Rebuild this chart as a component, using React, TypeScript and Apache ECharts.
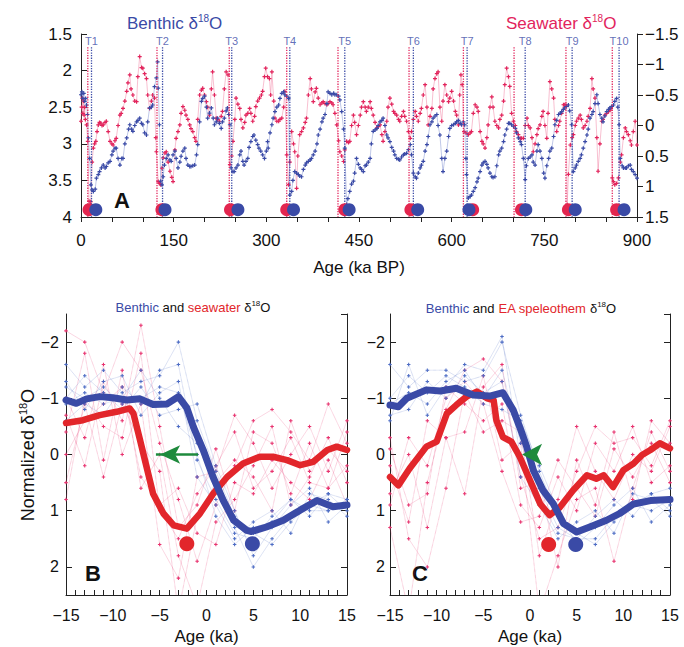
import React, { useEffect, useRef } from 'react';
import * as echarts from 'echarts';

// ---------- Panel A data ----------
const benthicA: [number, number][] = [
  [0,2.33],[1.5,2.29],[3,2.38],[4.5,2.31],[6,2.42],[7.5,2.38],[9,2.47],[10.5,2.6],[12,2.92],[14,3.2],[16,3.56],[18,3.63],[20,3.65],[23,3.62],[25,3.47],[28,3.42],[30,3.38],[33,3.33],[36,3.29],[39,3.33],[41,3.31],[44,3.26],[47,3.24],[50,3.15],[52,3.1],[55,3.06],[57,3.06],[60,3.2],[63,3.29],[66,3.2],[68,3.2],[71,3.0],[74,2.92],[77,2.8],[79,2.74],[82,2.8],[84,2.83],[87,2.75],[90,2.7],[92,2.68],[95,2.65],[98,2.72],[100,2.74],[103,2.85],[106,2.88],[108,2.7],[111,2.51],[114,2.5],[116,2.47],[119,2.22],[122,2.1],[124,1.88],[125,2.24],[127,2.74],[129,3.51],[131,3.56],[133,3.45],[135,3.29],[138,3.2],[141,3.15],[144,3.22],[146,3.24],[149,3.15],[152,3.1],[154,3.2],[157,3.33],[160,3.25],[162,3.17],[165,3.1],[168,3.06],[170,3.2],[173,3.29],[176,3.31],[178,3.31],[181,3.3],[184,3.29],[187,3.15],[189,3.01],[192,2.7],[195,2.42],[197,2.38],[200,2.35],[203,2.5],[205,2.65],[208,2.58],[211,2.51],[214,2.65],[216,2.74],[219,2.7],[221,2.65],[224,2.72],[227,2.79],[229,2.7],[232,2.65],[235,2.55],[237,2.51],[239,2.6],[241,2.74],[243,3.33],[246,3.38],[248,3.38],[251,3.33],[254,3.29],[257,3.15],[259,3.1],[262,3.24],[264,3.29],[267,3.24],[270,3.2],[272,3.05],[275,2.97],[278,2.9],[280,2.88],[283,2.95],[286,3.01],[288,3.06],[291,3.1],[294,3.15],[297,3.2],[300,3.1],[302,2.97],
  [303,3.06],[306,2.85],[309,2.74],[311,2.65],[314,2.56],[317,2.5],[320,2.47],[322,2.38],[325,2.31],[328,2.29],[330,2.33],[333,2.35],[336,2.38],[338,3.7],[341,3.65],[343,3.5],[346,3.38],[349,3.4],[352,3.42],[354,3.44],[357,3.45],[360,3.35],[363,3.29],[365,3.26],[368,3.24],[371,3.22],[373,3.2],[376,3.15],[379,3.1],[382,3.0],[384,2.88],[387,2.8],[390,2.7],[392,2.65],[395,2.6],[398,2.45],[400,2.29],[403,2.31],[406,2.33],[409,2.31],[411,2.33],[414,2.33],[417,2.35],[419,2.4],[422,2.56],[425,2.8],[427,3.06],[430,3.83],[432,3.75],[435,3.65],[438,3.55],[441,3.51],[443,3.4],[446,3.2],[449,3.28],[452,3.33],[454,3.35],[457,3.38],[460,3.3],[462,3.29],[465,3.25],[468,3.2],[470,3.0],[473,2.83],[476,2.81],[479,2.79],[481,2.75],[484,2.7],[487,2.68],[489,2.65],[492,2.75],[495,2.88],[497,2.92],[500,2.97],[503,3.05],[506,3.1],[508,3.15],[511,3.2],[514,3.21],[516,3.22],[519,3.18],[522,3.15],[524,3.14],[527,3.13],[530,3.08],[533,3.01],[535,3.15],[538,3.4],[541,3.45],[543,3.47],[546,3.4],[549,3.33],[551,3.29],[554,3.24],[557,3.1],[560,3.01],[562,2.9],[565,2.74],[568,2.7],[570,2.65],[573,2.62],[576,2.6],[578,2.75],[581,2.88],[584,3.2],[586,3.38],[589,3.2],[592,3.1],[595,2.9],[597,2.79],[600,2.75],[603,2.74],[606,2.72],[608,2.7],[611,2.68],[614,2.72],[616,2.74],
  [619,2.7],[621,2.74],[623,3.2],[624,3.42],[627,3.74],[630,3.72],[632,3.7],[635,3.65],[638,3.6],[641,3.52],[643,3.47],[646,3.38],[649,3.29],[651,3.26],[654,3.24],[657,3.28],[659,3.33],[662,3.4],[665,3.45],[667,3.46],[670,3.45],[673,3.3],[676,3.15],[678,3.1],[681,3.06],[684,2.97],[686,2.88],[689,2.8],[692,2.72],[694,2.72],[697,2.74],[700,2.76],[703,2.79],[705,2.85],[708,2.92],[711,2.97],[713,3.01],[716,3.2],[719,3.49],[721,3.3],[724,3.2],[727,3.18],[730,3.15],[732,3.25],[735,3.29],[738,3.1],[740,3.01],[743,3.1],[746,3.2],[749,3.4],[751,3.47],[754,3.3],[757,3.2],[759,3.1],[762,3.06],[765,2.9],[767,2.74],[770,2.68],[773,2.6],[776,2.58],[778,2.56],[781,2.53],[783,2.51],[786,2.49],[789,2.47],[791,2.55],[794,2.74],[797,3.38],[800,3.33],[802,3.29],[805,3.24],[808,3.2],[810,3.15],[813,3.06],[816,2.97],[819,2.88],[821,2.8],[824,2.65],[827,2.6],[829,2.56],[832,2.45],[835,2.33],[837,2.45],[840,2.6],[843,2.65],[845,2.7],[848,2.62],[851,2.56],[854,2.53],[856,2.51],[859,2.49],[862,2.47],[864,2.42],[867,2.38],[869,2.5],[871,2.74],[873,3.2],[876,3.3],[878,3.33],[881,3.33],[883,3.33],[886,3.3],[889,3.29],[891,3.35],[894,3.38],[897,3.42],[900,3.47]
];

const seawaterA: [number, number][] = [
  [0,-0.07],[1,-0.3],[2,-0.45],[3,-0.2],[4,-0.4],[5,-0.17],[6,-0.3],[7,-0.1],[9,-0.01],[11,0.26],[13,1.24],[15,1.3],[16,1.25],[18,0.6],[20,0.37],[22,0.3],[24,0.26],[26,0.1],[28,-0.01],[30,-0.05],[32,-0.04],[34,0.0],[36,-0.01],[39,-0.05],[41,-0.07],[44,0.1],[47,0.26],[50,0.3],[52,0.32],[55,0.25],[57,0.21],[60,0.0],[63,-0.17],[65,-0.2],[68,-0.28],[71,-0.4],[74,-0.56],[76,-0.7],[79,-0.83],[81,-0.6],[84,-0.5],[87,-0.4],[90,-0.39],[92,-0.8],[95,-1.13],[98,-0.95],[100,-0.94],[103,-0.85],[106,-0.77],[108,-0.5],[111,-0.28],[114,-0.4],[116,-0.5],[119,-0.45],[121,0.2],[122,0.43],[125,0.92],[127,0.95],[129,0.97],[131,0.7],[133,0.53],[136,0.45],[138,0.43],[141,0.6],[144,0.75],[147,0.85],[149,0.92],[152,0.4],[154,0.21],[157,0.1],[160,-0.01],[162,-0.2],[165,-0.31],[168,-0.25],[170,-0.17],[173,-0.1],[176,-0.01],[178,0.05],[181,0.1],[184,0.2],[186,0.26],[189,-0.1],[192,-0.5],[195,-0.58],[197,-0.61],[200,-0.5],[203,-0.39],[205,-0.3],[208,-0.17],[211,-0.6],[213,-0.88],[216,-0.5],[219,-0.12],[221,-0.1],[224,-0.07],[227,-0.15],[229,-0.23],[232,-0.6],[235,-0.88],[238,-0.83],[241,0.64],[244,0.5],[246,0.26],[249,-0.1],[251,-0.45],[254,-0.35],[257,-0.28],[259,-0.1],[262,0.04],[265,-0.05],[267,-0.17],[270,-0.2],[273,-0.28],[275,-0.2],[278,-0.07],[281,-0.15],[283,-0.31],[286,-0.4],[289,-0.45],[292,-0.5],[294,-0.56],[297,-0.8],[299,-0.94],[302,-0.8],[305,-0.77],[307,-0.5],[309,-0.88],[312,-0.4],[314,-0.12],[317,-0.07],[320,-0.07],[322,-0.1],[325,-0.12],[328,-0.3],[330,-0.56],[333,0.48],[336,0.97],[338,0.6],[341,0.1],[344,0.3],[346,0.43],[349,1.03],[351,0.5],[354,0.15],[357,0.1],[360,0.04],[363,-0.05],[365,-0.12],[368,-0.5],[371,-0.77],[373,-0.6],[376,-0.39],[379,-0.55],[381,-0.61],[384,-0.45],[387,-0.34],[390,-0.37],[392,-0.39],[395,-0.36],[398,-0.34],[400,-0.36],[403,-0.39],[406,-0.37],[408,-0.34],[411,-0.2],[414,-0.01],[417,0.25],[419,0.43],[422,0.5],[425,0.59],[427,0.4],[430,0.26],[433,0.28],[435,0.26],[438,0.0],[441,-0.17],[443,-0.05],[446,0.15],[449,0.0],[452,-0.17],[454,-0.3],[457,-0.39],[460,-0.3],[462,-0.23],[465,-0.3],[468,-0.39],[470,-0.28],[473,-0.17],[476,-0.05],[479,0.04],[481,0.02],[484,-0.01],[487,0.15],[489,0.26],[492,0.1],[495,-0.07],[497,-0.3],[500,-0.45],[503,-0.35],[506,-0.23],[508,-0.2],[511,-0.17],[514,-0.1],[516,-0.07],[519,-0.15],[522,-0.23],[524,-0.15],[527,-0.07],[530,0.1],[533,0.21],[535,0.1],[538,-0.1],[541,-0.23],[543,-0.15],[546,-0.07],[549,-0.2],[551,-0.28],[554,-0.5],[557,-0.67],[560,-0.3],[562,-0.01],[565,-0.15],[568,-0.28],[570,-0.6],[573,-0.77],[576,-0.85],[578,-0.88],[581,-0.3],[584,-0.07],[586,-0.4],[589,-0.67],[592,-0.5],[595,-0.39],[597,-0.45],[600,-0.56],[603,-0.4],[606,-0.23],[608,-0.17],[611,-0.01],[613,-0.5],[615,-0.83],[617,-0.67],[620,0.1],[623,0.12],[627,0.15],[630,0.12],[632,0.1],[635,-0.2],[638,-0.34],[641,-0.3],[643,-0.23],[646,0.1],[649,0.26],[651,0.3],[654,0.37],[657,0.2],[659,-0.01],[662,-0.3],[665,-0.47],[667,-0.3],[670,-0.07],[673,0.0],[676,0.04],[678,-0.1],[681,-0.17],[684,-0.4],[686,-0.67],[689,-0.94],[692,-0.8],[694,-0.64],[697,-0.2],[700,-0.07],[703,0.0],[705,0.1],[708,0.15],[711,0.21],[713,0.21],[716,0.21],[719,0.0],[722,-0.12],[724,0.0],[727,0.04],[730,0.2],[732,0.43],[735,0.3],[738,0.15],[740,0.05],[743,-0.01],[746,-0.15],[748,-0.23],[751,0.0],[754,0.21],[756,-0.2],[759,-0.72],[762,-0.6],[765,-0.45],[767,-0.1],[770,0.1],[773,0.0],[775,-0.07],[778,-0.2],[781,-0.34],[783,-0.34],[785,-0.34],[787,1.3],[789,0.8],[792,0.32],[795,0.2],[797,0.15],[800,0.0],[802,-0.07],[805,-0.12],[808,-0.17],[810,-0.1],[813,0.04],[816,0.0],[819,-0.07],[821,-0.15],[824,-0.28],[827,-0.77],[829,-0.6],[832,-0.45],[835,0.2],[837,0.75],[840,0.3],[843,-0.07],[845,-0.1],[848,-0.17],[851,-0.2],[854,-0.23],[856,-0.25],[858,-0.28],[860,0.86],[862,0.92],[864,0.97],[867,0.95],[870,0.86],[873,0.6],[875,0.48],[878,0.2],[881,0.04],[883,0.1],[886,0.15],[889,0.25],[891,0.32],[894,0.1],[897,-0.07],[900,0.32]
];

const termLabels = ['T1','T2','T3','T4','T5','T6','T7','T8','T9','T10'];
const termRedAge = [11, 123, 240, 333, 416, 531, 619, 701, 785, 860];
const termBlueAge = [17, 132, 244, 338, 427, 538, 625, 719, 795, 871];
const dotRedAge = [13, 131, 242, 333, 427, 534, 634, 713, 789, 867];
const dotBlueAge = [24, 136, 254, 344, 434, 545, 628, 720, 800, 879];

// ---------- Panels B & C data ----------
const ageBC = [-15,-13,-11,-9,-7,-5,-3,-1,1,3,5,7,9,11,13,15];

const thinBlueB = [
  [-1.6,-1.2,-1.5,-1.1,-1.3,-1.4,-2.0,-0.6,0.3,1.1,1.4,1.6,1.2,0.9,1.0,0.8],
  [-0.6,-0.9,-0.7,-1.2,-0.9,-1.5,-1.6,0.1,0.8,1.4,1.5,1.1,0.8,1.1,0.7,1.0],
  [-1.0,-1.4,-1.1,-0.8,-1.2,-0.7,-0.8,-0.9,0.2,1.0,1.8,1.3,0.9,0.6,1.2,0.9],
  [-1.3,-0.8,-1.3,-1.4,-0.7,-1.1,-1.3,0.4,0.9,1.5,1.2,1.0,1.4,0.7,0.8,1.1],
  [-0.9,-1.1,-0.9,-1.0,-1.5,-1.0,-0.5,-0.2,0.6,1.3,2.0,1.5,1.1,0.9,0.7,0.8],
  [-1.2,-1.0,-1.2,-0.9,-1.0,-1.2,-1.1,0.0,1.1,1.6,1.3,1.2,0.8,1.0,1.0,0.9]
];
const thinRedB = [
  [-2.2,-2.0,-1.1,-2.0,-1.5,-0.2,0.8,1.9,0.9,0.2,-0.6,-0.8,-0.4,0.1,-0.9,-0.2],
  [0.8,-1.0,-0.5,-0.3,-1.8,1.0,1.5,0.7,0.2,-0.4,0.6,0.3,-0.3,0.5,0.6,0.2],
  [-0.4,-1.8,0.1,-1.5,0.6,0.0,1.8,2.7,1.2,0.8,0.2,-0.5,0.9,0.4,-0.3,0.5],
  [-1.0,-0.3,-1.6,0.0,-0.9,1.6,2.2,0.4,0.3,-0.7,-0.2,0.6,0.0,-0.5,0.3,-0.6],
  [0.0,-0.6,-0.9,-1.2,0.4,0.9,0.6,1.4,1.6,0.5,0.7,0.1,0.5,0.8,0.1,0.9],
  [-0.7,0.2,-1.3,-0.6,-2.3,-0.5,1.3,0.9,-0.1,1.0,-0.4,-0.2,0.7,-0.2,0.6,-0.4],
  [0.5,-0.9,0.4,-0.9,-0.2,0.3,2.8,1.1,0.5,0.1,0.4,1.0,-0.6,0.3,-0.1,0.3]
];
const thinBlueC = [
  [-1.6,-1.2,-1.5,-1.5,-1.3,-1.4,-2.0,-0.7,0.3,1.1,1.4,1.6,1.2,0.9,1.0,0.8],
  [-0.6,-1.6,-0.7,-1.2,-1.6,-1.5,-2.1,0.1,0.8,1.4,1.5,1.1,0.8,1.1,0.7,1.0],
  [-1.0,-1.4,-1.1,-1.4,-1.2,-0.9,-0.8,-0.6,0.2,1.0,1.6,1.3,0.9,0.6,1.2,0.9],
  [-0.7,-0.8,-1.3,-1.0,-1.4,-1.1,-1.3,0.4,0.9,1.5,1.2,1.0,1.4,0.7,0.8,1.1],
  [-0.9,-1.1,-0.9,-1.3,-1.5,-1.0,-1.5,-0.2,0.6,1.3,1.5,1.5,1.1,0.9,0.7,0.6]
];
const thinRedC = [
  [1.3,2.8,0.5,-0.8,-1.5,-1.7,-1.3,0.4,1.5,1.3,0.3,-0.5,-0.2,-0.3,0.2,-0.6],
  [0.2,1.2,-0.6,-0.3,-0.4,-1.4,0.1,-0.2,2.8,1.8,0.8,0.6,1.9,0.6,-0.4,0.3],
  [-0.1,0.9,0.7,-1.2,-0.9,-0.6,-0.9,0.9,1.3,0.4,1.0,-0.2,0.3,-0.5,0.5,0.2],
  [0.7,0.0,1.3,-0.3,0.7,-1.2,-1.6,0.6,0.5,2.0,0.1,0.9,-0.4,0.8,-0.6,-0.2],
  [-0.3,1.5,2.0,0.6,-1.1,-0.4,-0.6,-0.4,1.8,0.8,-0.5,0.3,0.8,0.0,0.3,-0.5],
  [0.9,-0.3,0.2,-1.0,-1.3,-0.9,0.3,1.2,1.1,0.1,0.6,1.1,-0.1,0.4,-0.2,0.5]
];

const stackBlueB: [number, number][] = [[-15,-0.97],[-13.9,-0.91],[-12.8,-0.99],[-11.4,-1.03],[-10,-1.01],[-8.5,-0.97],[-7.1,-0.99],[-5.7,-0.89],[-4.2,-0.9],[-3,-1.03],[-2.1,-0.83],[-1.4,-0.49],[-0.35,-0.08],[0.7,0.4],[1.8,0.82],[2.9,1.17],[4.3,1.35],[4.8,1.37],[6.4,1.29],[8.2,1.17],[10,0.99],[11.8,0.82],[13.5,0.93],[15,0.9]];
const stackRedB: [number, number][] = [[-15,-0.56],[-13.2,-0.61],[-11.4,-0.7],[-9.6,-0.76],[-8.2,-0.82],[-7.8,-0.73],[-7.1,-0.26],[-6.4,0.22],[-5.7,0.7],[-4.6,1.05],[-3.5,1.26],[-2.1,1.32],[-0.7,1.05],[0.7,0.7],[2.2,0.4],[3.9,0.16],[5.7,0.04],[7.1,0.04],[8.6,0.1],[10,0.19],[11.4,0.13],[12.9,-0.08],[13.9,-0.14],[15,-0.08]];
const stackBlueC: [number, number][] = [[-15,-0.88],[-14.1,-0.85],[-13.2,-1.0],[-11.1,-1.15],[-9.6,-1.13],[-7.9,-1.18],[-6.1,-1.06],[-4.3,-1.04],[-2.9,-1.1],[-1.8,-0.79],[-1.1,-0.49],[-0.36,-0.14],[0.36,0.28],[1.4,0.64],[2.5,0.88],[3.6,1.23],[5,1.38],[6.4,1.29],[8.2,1.17],[9.6,1.05],[11.1,0.88],[12.9,0.82],[15,0.8]];
const stackRedC: [number, number][] = [[-15,0.4],[-14.1,0.55],[-12.9,0.25],[-11.1,-0.14],[-10,-0.23],[-8.9,-0.73],[-7.9,-0.88],[-6.8,-1.03],[-5.7,-1.12],[-4.6,-1.0],[-3.9,-0.97],[-3.6,-0.61],[-2.9,-0.31],[-2.0,-0.23],[-1.1,0.04],[0,0.46],[1.1,0.88],[2.1,1.08],[3.2,0.94],[4.6,0.64],[6.1,0.37],[7.1,0.43],[7.9,0.37],[8.9,0.58],[10,0.28],[11.1,0.16],[12,0.01],[12.9,-0.08],[13.9,-0.2],[15,-0.11]];

const arrowB: [number, number][] = [[-0.9, 0], [-5.4, 0]];
const arrowHeadB: [number, number] = [-4.95, 0];
const arrowHeadC: [number, number] = [-0.85, 0];
const dotsB = { red: [-2.1, 1.59] as [number, number], blue: [4.9, 1.59] as [number, number] };
const dotsC = { red: [2.0, 1.6] as [number, number], blue: [4.9, 1.6] as [number, number] };

// ---------- styling ----------
const FONT = 'Helvetica, "Liberation Sans", Arial, sans-serif';
const BLUE = '#3a4aa6';
const PINK = '#e2245c';
const RED = '#e2262b';
const THIN_BLUE = '#4d6cc4';
const THIN_RED = '#e8336f';
const GREEN = '#1e8a3c';
const PLUS = 'path://M3.5,0H6.5V3.5H10V6.5H6.5V10H3.5V6.5H0V3.5H3.5Z';
const minus = (v: number) => (v < 0 ? '\u2212' + String(Math.abs(v)) : String(v));

const axisLine = { show: true, onZero: false, lineStyle: { color: '#222', width: 1 } };
const labelStyle = (size: number, margin: number) => ({ fontSize: size, color: '#111', fontFamily: FONT, margin });

function buildOption() {
  const series: any[] = [];

  // Panel A
  series.push({
    type: 'line', xAxisIndex: 0, yAxisIndex: 1, data: seawaterA, z: 2,
    symbol: PLUS, symbolSize: 4, itemStyle: { color: PINK, opacity: 1 },
    lineStyle: { color: 'rgba(236,90,135,0.55)', width: 0.7 }
  });
  series.push({
    type: 'line', xAxisIndex: 0, yAxisIndex: 0, data: benthicA, z: 3,
    symbol: PLUS, symbolSize: 4, itemStyle: { color: BLUE, opacity: 1 },
    lineStyle: { color: 'rgba(90,110,195,0.55)', width: 0.7 }
  });
  termRedAge.forEach((a) => series.push({
    type: 'line', xAxisIndex: 0, yAxisIndex: 0, data: [[a, 1.68], [a, 4]], symbol: 'none', z: 4,
    lineStyle: { color: PINK, width: 1.3, type: 'dotted' }
  }));
  termBlueAge.forEach((a) => series.push({
    type: 'line', xAxisIndex: 0, yAxisIndex: 0, data: [[a, 1.68], [a, 4]], symbol: 'none', z: 4,
    lineStyle: { color: BLUE, width: 1.3, type: 'dotted' }
  }));
  series.push({
    type: 'scatter', xAxisIndex: 0, yAxisIndex: 0, data: termBlueAge.map((a) => [a, 1.6]),
    symbolSize: 1, itemStyle: { color: 'rgba(0,0,0,0)' }, z: 5,
    label: { show: true, position: 'inside', formatter: (p: any) => termLabels[p.dataIndex], color: BLUE, fontSize: 11, fontFamily: FONT }
  });
  series.push({
    type: 'scatter', xAxisIndex: 0, yAxisIndex: 0, data: dotRedAge.map((a) => [a, 3.9]),
    symbolSize: 13, itemStyle: { color: '#e3264f', opacity: 1 }, z: 6
  });
  series.push({
    type: 'scatter', xAxisIndex: 0, yAxisIndex: 0, data: dotBlueAge.map((a) => [a, 3.9]),
    symbolSize: 13, itemStyle: { color: BLUE, opacity: 1 }, z: 7
  });

  // Panels B and C
  const panel = (xi: number, yi: number, thinB: number[][], thinR: number[][], sB: any, sR: any, dots: any) => {
    thinR.forEach((ys) => series.push({
      type: 'line', xAxisIndex: xi, yAxisIndex: yi, data: ageBC.map((x, i) => [x, ys[i]]), z: 1,
      symbol: PLUS, symbolSize: 3.5, itemStyle: { color: THIN_RED, opacity: 1 },
      lineStyle: { color: THIN_RED, width: 0.6, type: 'dotted', opacity: 0.65 }
    }));
    thinB.forEach((ys) => series.push({
      type: 'line', xAxisIndex: xi, yAxisIndex: yi, data: ageBC.map((x, i) => [x, ys[i]]), z: 1,
      symbol: PLUS, symbolSize: 3.5, itemStyle: { color: THIN_BLUE, opacity: 1 },
      lineStyle: { color: THIN_BLUE, width: 0.6, type: 'dotted', opacity: 0.65 }
    }));
    series.push({
      type: 'line', xAxisIndex: xi, yAxisIndex: yi, data: sR, symbol: 'none', z: 3,
      lineStyle: { color: RED, width: 6.5, join: 'round', cap: 'round' }
    });
    series.push({
      type: 'line', xAxisIndex: xi, yAxisIndex: yi, data: sB, symbol: 'none', z: 4,
      lineStyle: { color: BLUE, width: 7, join: 'round', cap: 'round' }
    });
    series.push({
      type: 'scatter', xAxisIndex: xi, yAxisIndex: yi, data: [dots.red], symbolSize: 15, itemStyle: { color: RED, opacity: 1 }, z: 5
    });
    series.push({
      type: 'scatter', xAxisIndex: xi, yAxisIndex: yi, data: [dots.blue], symbolSize: 15, itemStyle: { color: BLUE, opacity: 1 }, z: 5
    });
  };
  panel(1, 2, thinBlueB, thinRedB, stackBlueB, stackRedB, dotsB);
  panel(2, 4, thinBlueC, thinRedC, stackBlueC, stackRedC, dotsC);

  series.push({
    type: 'line', xAxisIndex: 1, yAxisIndex: 2, data: arrowB, symbol: 'none', z: 6,
    lineStyle: { color: GREEN, width: 2.5 }
  });
  series.push({
    type: 'scatter', xAxisIndex: 1, yAxisIndex: 2, data: [arrowHeadB], symbol: 'arrow', symbolRotate: 90,
    symbolSize: [14, 20], itemStyle: { color: GREEN, opacity: 1 }, z: 7
  });
  series.push({
    type: 'scatter', xAxisIndex: 2, yAxisIndex: 4, data: [arrowHeadC], symbol: 'arrow', symbolRotate: 90,
    symbolSize: [16, 20], itemStyle: { color: GREEN, opacity: 1 }, z: 7
  });

  const xBC = (gi: number) => ({
    gridIndex: gi, type: 'value', min: -15, max: 15, interval: 1,
    axisLine, splitLine: { show: false },
    axisTick: { show: true, inside: true, length: 5, lineStyle: { color: '#222' } },
    axisLabel: { ...labelStyle(16, 12), formatter: (v: number) => (v % 5 === 0 ? minus(v) : '') },
    name: 'Age (ka)', nameLocation: 'middle', nameGap: 33,
    nameTextStyle: { fontSize: 17, color: '#111', fontFamily: FONT }
  });
  const yBC = (gi: number, pos: 'left' | 'right', showLabel: boolean, margin: number) => ({
    gridIndex: gi, type: 'value', min: -2.5, max: 2.5, minInterval: 1, maxInterval: 1, inverse: true, position: pos,
    axisLine, splitLine: { show: false },
    axisTick: { show: true, inside: true, length: 6, lineStyle: { color: '#222' } },
    axisLabel: { show: showLabel, ...labelStyle(16, margin), showMinLabel: false, showMaxLabel: false, formatter: (v: number) => minus(v) }
  });

  const supRich = (fs: number, ss: number, lh: number) => ({
    k: { fill: '#111', fontSize: fs, fontFamily: FONT, lineHeight: lh },
    b: { fill: BLUE, fontSize: fs, fontFamily: FONT, lineHeight: lh },
    r: { fill: RED, fontSize: fs, fontFamily: FONT, lineHeight: lh },
    p: { fill: PINK, fontSize: fs, fontFamily: FONT, lineHeight: lh },
    ks: { fill: '#111', fontSize: ss, fontFamily: FONT, lineHeight: lh, verticalAlign: 'top' },
    bs: { fill: BLUE, fontSize: ss, fontFamily: FONT, lineHeight: lh, verticalAlign: 'top' },
    ps: { fill: PINK, fontSize: ss, fontFamily: FONT, lineHeight: lh, verticalAlign: 'top' }
  });

  const graphic = [
    { type: 'text', x: 127, y: 23, style: { text: '{b|Benthic \u03b4}{bs|18}{b|O}', rich: supRich(17, 10, 20), align: 'left', verticalAlign: 'middle' } },
    { type: 'text', x: 506, y: 23, style: { text: '{p|Seawater \u03b4}{ps|18}{p|O}', rich: supRich(17, 10, 20), align: 'left', verticalAlign: 'middle' } },
    { type: 'text', x: 193, y: 307, style: { text: '{b|Benthic}{k| and }{r|seawater}{k| \u03b4}{ks|18}{k|O}', rich: supRich(13, 8, 16), align: 'center', verticalAlign: 'middle' } },
    { type: 'text', x: 521, y: 308, style: { text: '{b|Benthic}{k| and }{r|EA speleothem}{k| \u03b4}{ks|18}{k|O}', rich: supRich(13, 8, 16), align: 'center', verticalAlign: 'middle' } },
    { type: 'text', x: 28, y: 455, rotation: Math.PI / 2, style: { text: '{k|Normalized \u03b4}{ks|18}{k|O}', rich: supRich(18, 11, 22), align: 'center', verticalAlign: 'middle' } },
    { type: 'text', x: 122, y: 200, style: { text: 'A', fill: '#111', fontSize: 22, fontWeight: 'bold', fontFamily: FONT, align: 'center', verticalAlign: 'middle' } },
    { type: 'text', x: 93, y: 573, style: { text: 'B', fill: '#111', fontSize: 22, fontWeight: 'bold', fontFamily: FONT, align: 'center', verticalAlign: 'middle' } },
    { type: 'text', x: 420, y: 573, style: { text: 'C', fill: '#111', fontSize: 22, fontWeight: 'bold', fontFamily: FONT, align: 'center', verticalAlign: 'middle' } }
  ];

  return {
    animation: false,
    backgroundColor: '#ffffff',
    grid: [
      { left: 81, top: 34, width: 556, height: 183, containLabel: false, outerBoundsMode: 'none' },
      { left: 66, top: 314, width: 281, height: 281, containLabel: false, outerBoundsMode: 'none' },
      { left: 390, top: 314, width: 280, height: 281, containLabel: false, outerBoundsMode: 'none' }
    ],
    xAxis: [
      {
        gridIndex: 0, type: 'value', min: 0, max: 900, interval: 50,
        axisLine, splitLine: { show: false },
        axisTick: { show: true, inside: false, length: 5, lineStyle: { color: '#222' } },
        axisLabel: { ...labelStyle(17, 15), formatter: (v: number) => (v % 150 === 0 ? String(v) : '') },
        name: 'Age (ka BP)', nameLocation: 'middle', nameGap: 42,
        nameTextStyle: { fontSize: 17, color: '#111', fontFamily: FONT }
      },
      xBC(1),
      xBC(2)
    ],
    yAxis: [
      {
        gridIndex: 0, type: 'value', min: 1.5, max: 4, interval: 0.5, inverse: true, position: 'left',
        axisLine, splitLine: { show: false },
        axisTick: { show: true, inside: true, length: 6, lineStyle: { color: '#222' } },
        axisLabel: { ...labelStyle(17, 9) }
      },
      {
        gridIndex: 0, type: 'value', min: -1.5, max: 1.5, interval: 0.5, inverse: true, position: 'right',
        axisLine, splitLine: { show: false },
        axisTick: { show: true, inside: false, length: 6, lineStyle: { color: '#222' } },
        axisLabel: { ...labelStyle(17, 8), formatter: (v: number) => minus(v) }
      },
      yBC(1, 'left', true, 7),
      yBC(1, 'right', false, 7),
      yBC(2, 'left', true, 5),
      yBC(2, 'right', false, 7)
    ],
    graphic,
    series
  };
}

export default function App() {
  const ref = useRef<HTMLDivElement>(null);
  useEffect(() => {
    if (!ref.current) return;
    const chart = echarts.init(ref.current, undefined, { renderer: 'svg' });
    chart.setOption(buildOption() as any);
    return () => chart.dispose();
  }, []);
  return (
    <div
      ref={ref}
      style={{ position: 'fixed', left: 0, top: 0, width: 684, height: 647, background: '#fff' }}
    />
  );
}
